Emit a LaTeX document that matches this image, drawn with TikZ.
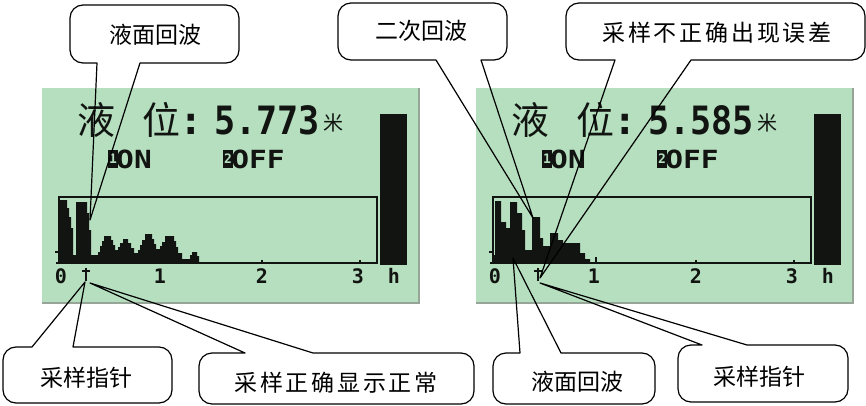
\documentclass[tikz,border=0pt]{standalone}
\usepackage{graphicx}
\usepackage{fontspec}
\setmainfont{Liberation Serif}
\newfontfamily\cjk{Noto Sans CJK SC}
\newfontfamily\lcdfont{DejaVu Sans Mono}
\definecolor{lcdgreen}{RGB}{181,223,190}
\definecolor{lcdedge}{RGB}{150,165,152}
\definecolor{lcdink}{RGB}{17,20,17}
\begin{document}
\begin{tikzpicture}[x=1pt,y=-1pt,
  callout/.style={draw=black, line width=1.2pt, line join=round, line cap=round},
  ctext/.style={font=\cjk\fontsize{23}{23}\selectfont, inner sep=0pt},
  ctextw/.style={font=\cjk\fontsize{23}{23}\selectfont\addfontfeatures{LetterSpace=12}, inner sep=0pt},
  lcdbig/.style={text=lcdink, inner sep=0pt, font=\lcdfont\bfseries\fontsize{39}{39}\selectfont},
  lcdcjk/.style={text=lcdink, inner sep=0pt, font=\cjk\fontsize{38}{38}\selectfont},
  lcdmid/.style={text=lcdink, inner sep=0pt, font=\lcdfont\bfseries\fontsize{25}{25}\selectfont},
  lcdaxis/.style={text=lcdink, inner sep=0pt, font=\lcdfont\bfseries\fontsize{20}{20}\selectfont},
  chartline/.style={draw=lcdink, line width=2pt}]
\useasboundingbox (0,0) rectangle (866,406);

% ---------- LCD panels ----------
\foreach \dx/\val/\s in {0/5.773/L,434/5.585/R}{
\begin{scope}[shift={(\dx,0)}]
  \fill[lcdgreen] (42,88) rectangle (419,303);
  \draw[lcdedge, line width=2pt] (419,88) -- (419,303) -- (42,303);
  \node[lcdcjk] (ye\s) at (96,120) {液};
  \node[lcdcjk] (wei\s) at (161,120) {位};
  \node[lcdbig, anchor=base] (colon\s) at (191,135) {:};
  \node[lcdbig, anchor=base] (val\s) at (267,135) {\scalebox{0.9}[1]{\val}};
  \node[text=lcdink, inner sep=0pt, font=\cjk\fontsize{20}{20}\selectfont] (mi\s) at (333,123) {米};
  \fill[lcdink] (108,150) rectangle (118,168);
  \node[text=lcdgreen, inner sep=0pt, font=\lcdfont\bfseries\fontsize{13}{13}\selectfont] (kA\s) at (113,159) {1};
  \node[lcdmid, anchor=base] (on\s) at (134,168) {\scalebox{1.18}[1]{ON}};
  \fill[lcdink] (223,150) rectangle (233,168);
  \node[text=lcdgreen, inner sep=0pt, font=\lcdfont\bfseries\fontsize{13}{13}\selectfont] (kB\s) at (228,159) {2};
  \node[lcdmid, anchor=base] (off\s) at (258,168) {\scalebox{1.18}[1]{OFF}};
  \fill[lcdink] (380,114) rectangle (407,265);
  \draw[chartline] (59,263) -- (59,197) -- (377,197) -- (377,263);
  \draw[draw=lcdink, line width=2.8pt] (56,263) -- (378,263);
  \draw[draw=lcdink, line width=1.5pt] (55,252) -- (60,252);
  \draw[draw=lcdink, line width=2pt] (162,263) -- (162,257);
  \draw[draw=lcdink, line width=2pt] (262,263) -- (262,260);
  \draw[draw=lcdink, line width=2pt] (360,263) -- (360,260);
  \node[lcdaxis, anchor=base] (a0\s) at (61,283) {0};
  \node[lcdaxis, anchor=base] (a1\s) at (160,283) {1};
  \node[lcdaxis, anchor=base] (a2\s) at (262,283) {2};
  \node[lcdaxis, anchor=base] (a3\s) at (358,283) {3};
  \node[lcdaxis, anchor=base] (ah\s) at (394,283) {h};
\end{scope}}

% waveform left
\fill[lcdink] (58,263) -- (58,200) -- (67,200) -- (67,208) -- (69,208) -- (69,217) -- (71,217) -- (71,228) -- (73,228) -- (73,255) -- (76,255) -- (76,202) -- (87,202) -- (87,213) -- (89,213) -- (89,230) -- (91,230) -- (91,255) -- (98,255)
 -- (98,252) -- (100,252) -- (100,246) -- (102,246) -- (102,241) -- (104,241) -- (104,236) -- (111,236) -- (111,240) -- (113,240) -- (113,245) -- (115,245) -- (115,250) -- (118,250)
 -- (118,247) -- (120,247) -- (120,243) -- (123,243) -- (123,239) -- (128,239) -- (128,243) -- (131,243) -- (131,248) -- (134,248) -- (134,253) -- (138,253)
 -- (138,250) -- (140,250) -- (140,245) -- (142,245) -- (142,240) -- (145,240) -- (145,234) -- (152,234) -- (152,239) -- (154,239) -- (154,244) -- (156,244) -- (156,249) -- (160,249)
 -- (160,246) -- (162,246) -- (162,242) -- (165,242) -- (165,236) -- (174,236) -- (174,241) -- (176,241) -- (176,247) -- (178,247) -- (178,253) -- (182,253) -- (182,259)
 -- (190,259) -- (190,255) -- (192,255) -- (192,252) -- (197,252) -- (197,256) -- (199,256) -- (199,263) -- cycle;
% waveform right
\fill[lcdink] (493,263) -- (493,255) -- (495,255) -- (495,201) -- (501,201) -- (501,222) -- (506,222) -- (506,228) -- (510,228) -- (510,202) -- (517,202) -- (517,213) -- (522,213) -- (522,230) -- (525,230) -- (525,250) -- (532,250) -- (532,217) -- (540,217) -- (540,238) -- (543,238) -- (543,246) -- (550,246) -- (550,233) -- (558,233) -- (558,240) -- (563,240) -- (563,243) -- (580,243) -- (580,253) -- (585,253) -- (585,259) -- (590,259) -- (590,263) -- cycle;

% sampling pointer marks
\draw[draw=lcdink, line width=1.8pt] (86,268) -- (86,281) (82,271) -- (90,271);
\draw[draw=lcdink, line width=1.8pt] (538,268) -- (538,281) (534,271) -- (542,271);

% ---------- callouts ----------
\coordinate (tipA) at (90,220);
\coordinate (tipB) at (533,218);
\coordinate (tipC) at (540,278);
\coordinate (tipD) at (85,282);
\coordinate (tipE) at (90,283);
\coordinate (tipF) at (513,258);
\coordinate (tipG) at (540,283);

% top row (pointer on bottom edge)
\draw[callout] (140,63) -- (tipA) -- (97,63) [rounded corners=13pt] -- (70,63) -- (70,5) -- (239,5) -- (239,63) -- (140,63);
\node[ctext] (tA) at (155,35) {液面回波};

\draw[callout] (481,60) -- (tipB) -- (436,60) [rounded corners=13pt] -- (338,60) -- (338,3) -- (507,3) -- (507,60) -- (481,60);
\node[ctext] (tB) at (421,31) {二次回波};

\draw[callout] (691,60) -- (tipC) -- (615,60) [rounded corners=13pt] -- (566,60) -- (566,3) -- (865,3) -- (865,60) -- (691,60);
\node[ctextw] (tC) at (717,33) {采样不正确出现误差};

% bottom row (pointer on top edge)
\draw[callout] (32,347) -- (tipD) -- (73,347) [rounded corners=13pt] -- (172,347) -- (172,403) -- (3,403) -- (3,347) -- (32,347);
\node[ctext] (tD) at (86,378) {采样指针};

\draw[callout] (245,353) -- (tipE) -- (313,353) [rounded corners=13pt] -- (474,353) -- (474,404) -- (199,404) -- (199,353) -- (245,353);
\node[ctextw] (tE) at (336,383) {采样正确显示正常};

\draw[callout] (520,353) -- (tipF) -- (561,353) [rounded corners=13pt] -- (655,353) -- (655,404) -- (493,404) -- (493,353) -- (520,353);
\node[ctext] (tF) at (577,382) {液面回波};

\draw[callout] (702,345) -- (tipG) -- (747,345) [rounded corners=13pt] -- (848,345) -- (848,402) -- (678,402) -- (678,345) -- (702,345);
\node[ctext] (tG) at (759,377) {采样指针};
\end{tikzpicture}
\end{document}
